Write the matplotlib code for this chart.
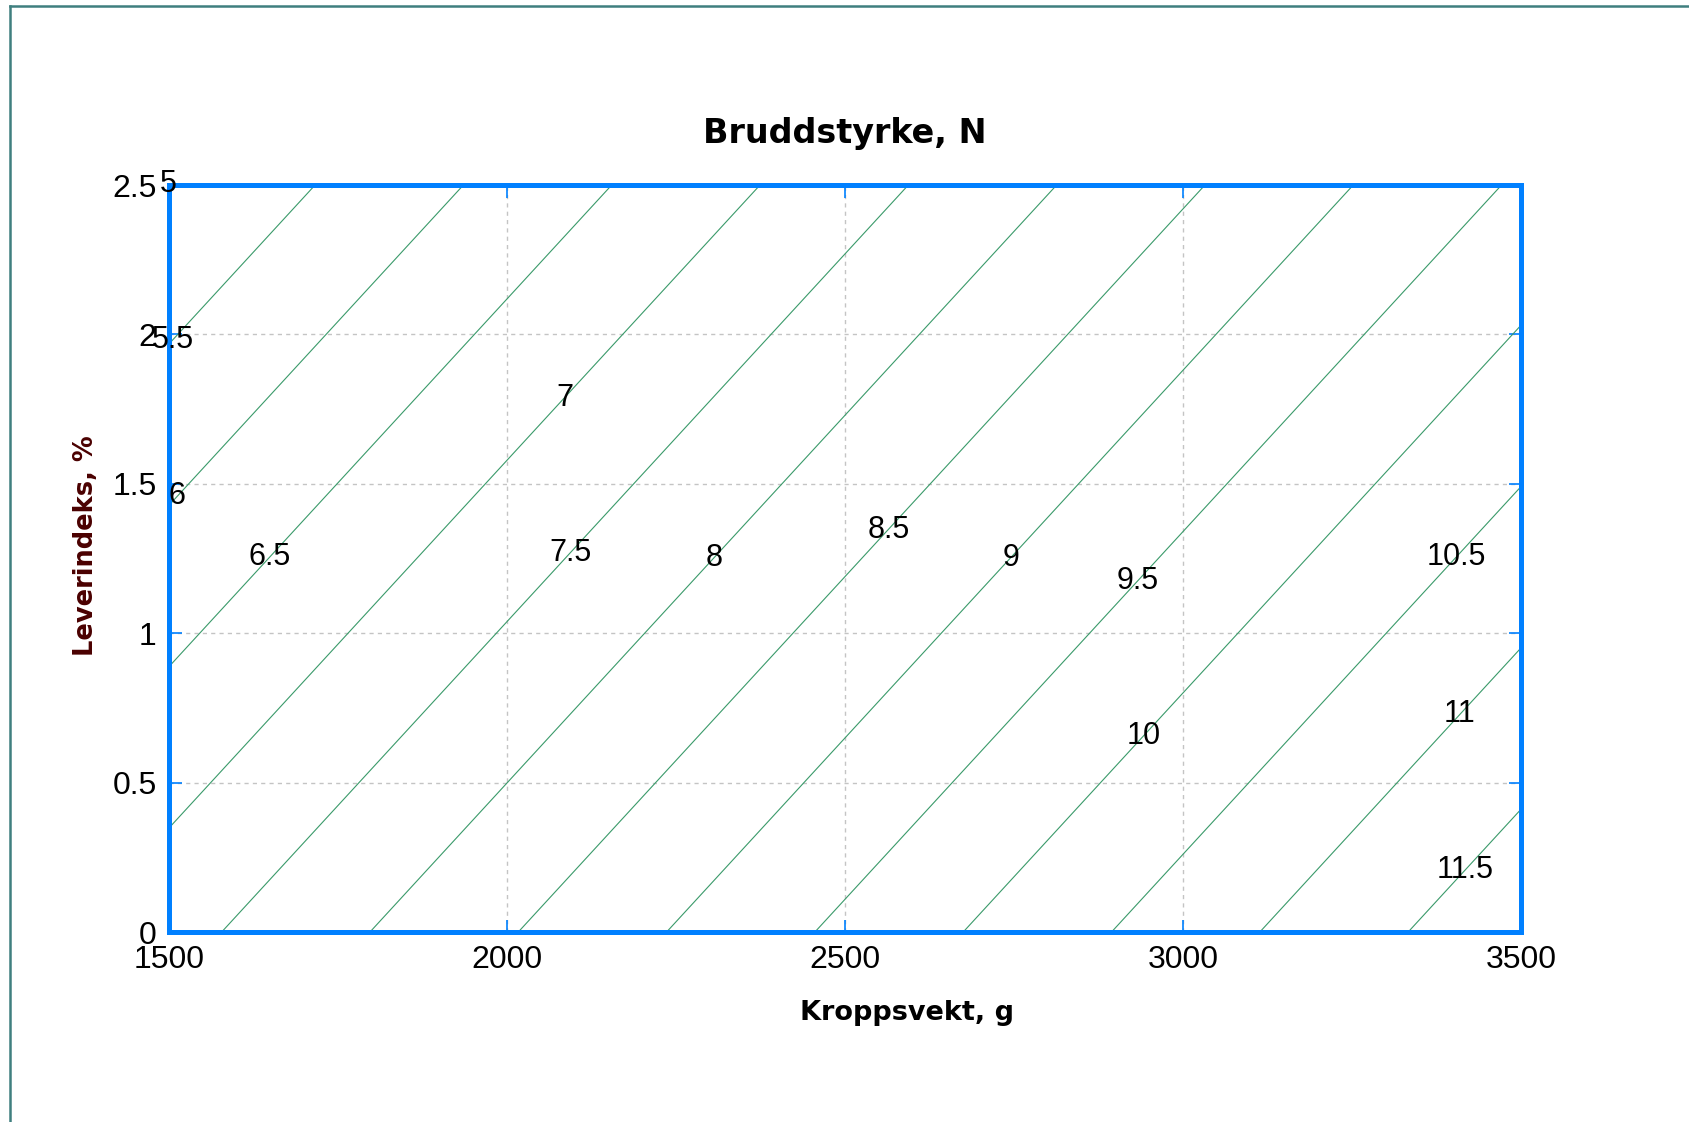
import numpy as np
import matplotlib
matplotlib.use("Agg")
import matplotlib.pyplot as plt
from matplotlib.lines import Line2D

# Linear surface: N = c0 + cW * W + cL * L
c0, cW, cL = 3.904, 0.002279, -0.926
levels = [5, 5.5, 6, 6.5, 7, 7.5, 8, 8.5, 9, 9.5, 10, 10.5, 11, 11.5]

# where each contour label sits (Kroppsvekt, Leverindeks)
label_w = [1500, 1510, 1513, 1649, 2087, 2095, 2306, 2564, 2745, 2933, 2943, 3406, 3411, 3418]
label_l = [2.50, 1.97, 1.457, 1.253, 1.785, 1.267, 1.253, 1.347, 1.253, 1.173, 0.655, 1.25, 0.725, 0.207]

xticks = [1500, 2000, 2500, 3000, 3500]
yticks = [0, 0.5, 1, 1.5, 2, 2.5]

narrow = ['Liberation Sans Narrow', 'Liberation Sans', 'DejaVu Sans']
blue = '#0080ff'

W, L = np.meshgrid(np.linspace(1480, 3520, 300), np.linspace(-0.05, 2.55, 300))
N = c0 + cW * W + cL * L

fig = plt.figure(figsize=(16.9, 11.22), dpi=100)
ax = fig.add_axes([0.1, 0.1693, 0.8, 0.6658])

cs = ax.contour(W, L, N, levels=levels, colors='#3a9a6a', linewidths=0.8)
texts = ax.clabel(cs, levels=levels, inline=False, manual=list(zip(label_w, label_l)),
                  fontsize=22, colors='black', fmt=lambda v: f'{v:g}')
for t in texts:
    t.set_rotation(0)
    t.set_family(narrow)
    t.set_clip_on(False)

ax.set_xlim(1500, 3500)
ax.set_ylim(0, 2.5)
ax.set_xticks(xticks)
ax.set_yticks(yticks)
ax.set_xticklabels([str(v) for v in xticks], family=narrow, fontsize=23)
ax.set_yticklabels(['0', '0.5', '1', '1.5', '2', '2.5'], family=narrow, fontsize=23)
ax.tick_params(direction='in', length=9, width=1.2, color=blue, top=True, right=True, pad=9)
ax.grid(True, color='#c4c4c4', linestyle=(0, (3, 3)), linewidth=1.0)
for s in ax.spines.values():
    s.set_color(blue)
    s.set_linewidth(3.6)

ax.set_title('Bruddstyrke, N', fontsize=24, fontweight='bold', pad=30)
ax.set_xlabel('Kroppsvekt, g', fontsize=19.5, fontweight='bold')
ax.set_ylabel('Leverindeks, %', fontsize=18.5, fontweight='bold', color='#4a0000')
ax.xaxis.set_label_coords(0.546, -0.091)
ax.yaxis.set_label_coords(-0.0515, 0.517)

# window frame around the picture
fig.add_artist(Line2D([0.0059, 1], [0.9949, 0.9949], color='#3f7f7f', linewidth=1.8))
fig.add_artist(Line2D([0.0059, 0.0059], [0, 0.9949], color='#3f7f7f', linewidth=1.8))

fig.savefig('out.png', dpi=100)
